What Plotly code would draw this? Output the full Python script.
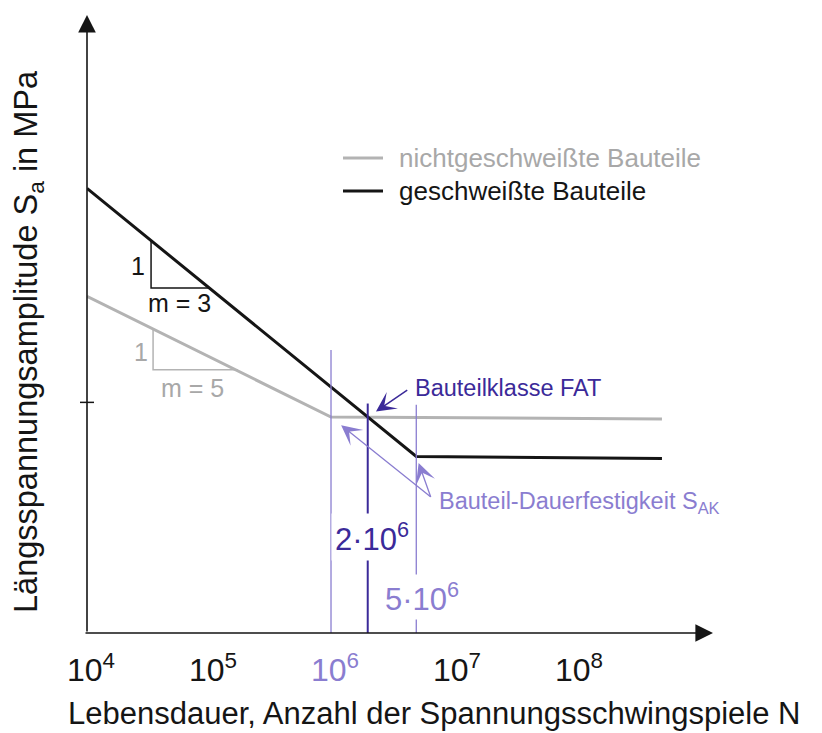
import math
import plotly.graph_objects as go

# ---- S-N data: cycles to failure N, stress amplitude S in MPa ----
welded_N = [1e4, 5e6, 5.16e8]
welded_S = [585, 73.7, 72.6]
unwelded_N = [1e4, 1e6, 5.16e8]
unwelded_S = [254, 100, 98.5]

# slope triangles under each curve
tri_welded_N = [3.35e4, 3.35e4, 1.0e5]
tri_welded_S = [391, 271, 271]
tri_unwelded_N = [3.48e4, 3.48e4, 1.72e5]
tri_unwelded_S = [198, 144, 144]

# reference cycle numbers (knee points / FAT definition)
ref_N = [1e6, 2e6, 5e6]
ref_top_S = [168, 111, 110]
fat_N, fat_S = 2e6, 100
knee_unwelded = (1e6, 100)
knee_welded = (5e6, 73.7)

x_tick_vals = [1e4, 1e5, 1e6, 1e7, 1e8]
x_tick_exp = ["4", "5", "6", "7", "8"]
y_tick_vals = [112]

N_RANGE = (1e4, 10 ** 9.131)
S_RANGE = (18.85, 2234)

FONT = "Arial, Liberation Sans, sans-serif"
BLACK = "#151515"
GREY = "#b3b3b3"
GREY_TXT = "#a8a8a8"
LILAC = "#8a7dd0"
INDIGO = "#3b2a99"

W, H = 822, 733
ML, MR, MT, MB = 87, 109, 15, 100
PW, PH = W - ML - MR, H - MT - MB


def px(x):
    return (x - ML) / PW


def py(y):
    return (H - MB - y) / PH


def lg(v):
    return math.log10(v)


fig = go.Figure()

# curves
fig.add_trace(go.Scatter(x=unwelded_N, y=unwelded_S, mode="lines",
                         line=dict(color=GREY, width=3), showlegend=False))
fig.add_trace(go.Scatter(x=welded_N, y=welded_S, mode="lines",
                         line=dict(color=BLACK, width=3), showlegend=False))

# slope triangles
fig.add_trace(go.Scatter(x=tri_welded_N, y=tri_welded_S, mode="lines",
                         line=dict(color=BLACK, width=1.5), showlegend=False))
fig.add_trace(go.Scatter(x=tri_unwelded_N, y=tri_unwelded_S, mode="lines",
                         line=dict(color=GREY, width=1.5), showlegend=False))

# vertical reference lines
ref_colors = [LILAC, INDIGO, LILAC]
ref_widths = [1.3, 2, 1.3]
for n, top, c, w in zip(ref_N, ref_top_S, ref_colors, ref_widths):
    fig.add_trace(go.Scatter(x=[n, n], y=[S_RANGE[0], top], mode="lines",
                             line=dict(color=c, width=w), showlegend=False,
                             cliponaxis=False))

# tick marks crossing the axes
fig.add_trace(go.Scatter(x=x_tick_vals, y=[S_RANGE[0]] * len(x_tick_vals), mode="markers",
                         marker=dict(symbol="line-ns", size=9,
                                     line=dict(color=BLACK, width=1.5)),
                         showlegend=False, cliponaxis=False))
fig.add_trace(go.Scatter(x=[N_RANGE[0]] * len(y_tick_vals), y=y_tick_vals, mode="markers",
                         marker=dict(symbol="line-ew", size=10,
                                     line=dict(color=BLACK, width=1.5)),
                         showlegend=False, cliponaxis=False))

tick_text = []
for v, e in zip(x_tick_vals, x_tick_exp):
    lbl = f"10<sup>{e}</sup>"
    if v == ref_N[0]:
        lbl = f"<span style='color:{LILAC}'>{lbl}</span>"
    tick_text.append(lbl)

fig.update_xaxes(type="log", range=[lg(N_RANGE[0]), lg(N_RANGE[1])], showgrid=False,
                 zeroline=False, showline=False, ticks="outside", ticklen=5,
                 tickcolor="rgba(0,0,0,0)", tickmode="array",
                 tickvals=x_tick_vals, ticktext=tick_text,
                 tickfont=dict(size=32, color=BLACK, family=FONT),
                 ticklabelshift=4, ticklabelstandoff=4)
fig.update_yaxes(type="log", range=[lg(S_RANGE[0]), lg(S_RANGE[1])], showgrid=False,
                 zeroline=False, showline=False, ticks="", showticklabels=False)

ann = []
# axis arrows
ann.append(dict(xref="paper", yref="paper", x=1, y=0, ax=-(PW + 3), ay=0,
                axref="pixel", ayref="pixel", text="", showarrow=True,
                arrowhead=2, arrowsize=2.2, arrowwidth=1.6, arrowcolor=BLACK))
ann.append(dict(xref="paper", yref="paper", x=0, y=1, ax=0, ay=PH,
                axref="pixel", ayref="pixel", text="", showarrow=True,
                arrowhead=2, arrowsize=2.2, arrowwidth=1.6, arrowcolor=BLACK))

# axis titles
ann.append(dict(xref="paper", yref="paper", x=px(434), y=py(733),
                text="Lebensdauer, Anzahl der Spannungsschwingspiele N",
                showarrow=False, font=dict(size=31, color=BLACK, family=FONT),
                xanchor="center", yanchor="bottom"))
ann.append(dict(xref="paper", yref="paper", x=px(28), y=py(342),
                text="Längsspannungsamplitude S<sub>a</sub> in MPa", textangle=-90,
                showarrow=False, font=dict(size=32.5, color=BLACK, family=FONT),
                xanchor="center", yanchor="middle"))

# slope labels
ann.append(dict(x=lg(tri_welded_N[0]), y=(lg(tri_welded_S[0]) + lg(tri_welded_S[1])) / 2,
                text="1", showarrow=False, xanchor="right",
                xshift=-4, yshift=-2, font=dict(size=25, color=BLACK, family=FONT)))
ann.append(dict(x=lg(tri_welded_N[0]), y=lg(tri_welded_S[1]), text="m = 3",
                showarrow=False, xanchor="left",
                xshift=-5, yshift=-15, font=dict(size=25, color=BLACK, family=FONT)))
ann.append(dict(x=lg(tri_unwelded_N[0]),
                y=(lg(tri_unwelded_S[0]) + lg(tri_unwelded_S[1])) / 2,
                text="1", showarrow=False, xanchor="right",
                xshift=-3, yshift=-3, font=dict(size=25, color=GREY_TXT, family=FONT)))
ann.append(dict(x=lg(tri_unwelded_N[0]), y=lg(tri_unwelded_S[1]), text="m = 5",
                showarrow=False, xanchor="left",
                xshift=6, yshift=-18, font=dict(size=25, color=GREY_TXT, family=FONT)))

# cycle labels on the reference lines
ann.append(dict(x=lg(ref_N[1]), y=1.614, text="2·10<sup>6</sup>", showarrow=False,
                xshift=4, yshift=-5, bgcolor="white", borderpad=3,
                font=dict(size=31, color=INDIGO, family=FONT)))
ann.append(dict(x=lg(ref_N[2]), y=1.401, text="5·10<sup>6</sup>", showarrow=False,
                xshift=6, yshift=-1, bgcolor="white", borderpad=2,
                font=dict(size=31, color=LILAC, family=FONT)))

# FAT pointer
ann.append(dict(x=lg(fat_N), y=lg(fat_S), ax=41, ay=-28, text="", showarrow=True,
                arrowhead=3, arrowsize=2.2, arrowwidth=1.5, arrowcolor=INDIGO,
                standoff=10))
ann.append(dict(x=lg(fat_N), y=lg(fat_S), text="Bauteilklasse FAT", showarrow=False,
                xanchor="left", xshift=45, yshift=29,
                font=dict(size=23.5, color=INDIGO, family=FONT)))

# endurance-limit pointers
ann.append(dict(x=lg(knee_unwelded[0]), y=lg(knee_unwelded[1]), ax=101, ay=81,
                text="", showarrow=True, arrowhead=3, arrowsize=2.6, arrowwidth=1.3,
                arrowcolor=LILAC, standoff=13))
ann.append(dict(x=lg(knee_welded[0]), y=lg(knee_welded[1]), ax=15, ay=42,
                text="", showarrow=True, arrowhead=3, arrowsize=2.6, arrowwidth=1.3,
                arrowcolor=LILAC, standoff=7))
ann.append(dict(x=lg(knee_welded[0]), y=lg(knee_welded[1]),
                text="Bauteil-Dauerfestigkeit S<sub>AK</sub>",
                showarrow=False, xanchor="left", xshift=21, yshift=-46,
                font=dict(size=23.5, color=LILAC, family=FONT)))

# legend
ann.append(dict(xref="paper", yref="paper", x=px(397), y=py(158),
                text="nichtgeschweißte Bauteile", showarrow=False,
                xanchor="left", yanchor="middle",
                font=dict(size=26, color=GREY_TXT, family=FONT)))
ann.append(dict(xref="paper", yref="paper", x=px(397), y=py(191),
                text="geschweißte Bauteile", showarrow=False,
                xanchor="left", yanchor="middle",
                font=dict(size=26, color=BLACK, family=FONT)))

shapes = [
    dict(type="line", xref="paper", yref="paper", x0=px(343), x1=px(383),
         y0=py(158), y1=py(158), line=dict(color=GREY, width=3)),
    dict(type="line", xref="paper", yref="paper", x0=px(343), x1=px(383),
         y0=py(191), y1=py(191), line=dict(color=BLACK, width=3)),
]

fig.update_layout(width=W, height=H, margin=dict(l=ML, r=MR, t=MT, b=MB),
                  paper_bgcolor="white", plot_bgcolor="white",
                  annotations=ann, shapes=shapes, showlegend=False,
                  font=dict(family=FONT))

fig.write_html("out.html")
